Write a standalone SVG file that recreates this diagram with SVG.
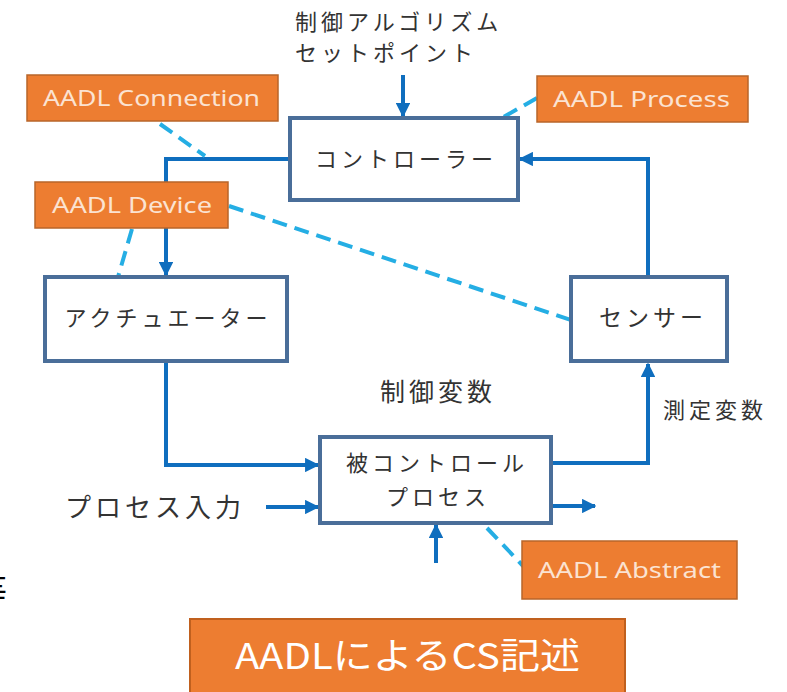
<svg xmlns="http://www.w3.org/2000/svg" width="787" height="692" viewBox="0 0 787 692">
<style>
.box{fill:#fff;stroke:#4A6E99;stroke-width:4}
.tag{fill:#ED7D31;stroke:#B8652A;stroke-width:1.5}
.jp{font-family:"Noto Sans CJK JP","Noto Sans",sans-serif;fill:#333;letter-spacing:4px}
.lbl{font-family:"Noto Sans","Noto Sans CJK JP",sans-serif;fill:#FBE3D2;font-size:22px}
.flow{fill:none;stroke:#0F6EBE;stroke-width:4}
.dash{fill:none;stroke:#25AEE4;stroke-width:4;stroke-dasharray:15 8}
</style>
<defs>
<marker id="ah" viewBox="0 0 10 10" refX="9" refY="5" markerWidth="3.6" markerHeight="3.6" orient="auto" markerUnits="strokeWidth">
<path d="M0,0 L10,5 L0,10 Z" fill="#0F6EBE"/>
</marker>
</defs>

<g id="connectors">
<path class="flow" d="M290,159 H166 V275" marker-end="url(#ah)"/>
<path class="flow" d="M166,361 V465 H318" marker-end="url(#ah)"/>
<path class="flow" d="M551,463 H648 V364" marker-end="url(#ah)"/>
<path class="flow" d="M648,277 V159 H520" marker-end="url(#ah)"/>
<path class="flow" d="M403,75 V116" marker-end="url(#ah)"/>
<path class="flow" d="M266,507 H318" marker-end="url(#ah)"/>
<path class="flow" d="M551,506 H595" marker-end="url(#ah)"/>
<path class="flow" d="M436,563 V525" marker-end="url(#ah)"/>
<path class="dash" d="M160,124 L205,156"/>
<path class="dash" d="M537,98 L500,119"/>
<path class="dash" d="M132,229 L118,277"/>
<path class="dash" d="M229,206 L571,320"/>
<path class="dash" d="M487,528 L525,568"/>
</g>

<g id="setpoint">
<text class="jp" x="295" y="30" font-size="22">制御アルゴリズム</text>
<text class="jp" x="295" y="61" font-size="22">セットポイント</text>
</g>

<g id="controller">
<rect class="box" x="290" y="118" width="228" height="82"/>
<text class="jp" x="406" y="167" font-size="22" text-anchor="middle">コントローラー</text>
</g>

<g id="actuator">
<rect class="box" x="45" y="277" width="242" height="84"/>
<text class="jp" x="168" y="326" font-size="22" text-anchor="middle">アクチュエーター</text>
</g>

<g id="sensor">
<rect class="box" x="571" y="277" width="156" height="84"/>
<text class="jp" x="653" y="326" font-size="23" text-anchor="middle">センサー</text>
</g>

<g id="process">
<rect class="box" x="320" y="437" width="231" height="86"/>
<text class="jp" x="437" y="471" font-size="22" text-anchor="middle">被コントロール</text>
<text class="jp" x="438" y="505" font-size="22" text-anchor="middle">プロセス</text>
</g>

<g id="labels">
<text class="jp" x="380" y="401" font-size="25">制御変数</text>
<text class="jp" x="663" y="418" font-size="22">測定変数</text>
<text class="jp" x="65" y="517" font-size="26" letter-spacing="3">プロセス入力</text>
<text x="-29" y="605" font-size="36" font-family="Noto Sans CJK JP, sans-serif" fill="#000">等</text>
</g>

<g id="aadl-connection">
<rect class="tag" x="27" y="75" width="251" height="46"/>
<text class="lbl" x="43" y="106" textLength="217" lengthAdjust="spacingAndGlyphs">AADL Connection</text>
</g>

<g id="aadl-process">
<rect class="tag" x="537" y="76" width="211" height="46"/>
<text class="lbl" x="553" y="107" textLength="177" lengthAdjust="spacingAndGlyphs">AADL Process</text>
</g>

<g id="aadl-device">
<rect class="tag" x="35" y="182" width="193" height="46"/>
<text class="lbl" x="52" y="213" textLength="160" lengthAdjust="spacingAndGlyphs">AADL Device</text>
</g>

<g id="aadl-abstract">
<rect class="tag" x="522" y="541" width="215" height="58"/>
<text class="lbl" x="538" y="578" textLength="183" lengthAdjust="spacingAndGlyphs">AADL Abstract</text>
</g>

<g id="title">
<rect x="190" y="619" width="435" height="75" fill="#ED7D31" stroke="#C0601E" stroke-width="2"/>
<text x="235" y="669" font-size="36" font-family="Noto Sans CJK JP, sans-serif" fill="#fff" textLength="345" lengthAdjust="spacingAndGlyphs">AADLによるCS記述</text>
</g>
</svg>
